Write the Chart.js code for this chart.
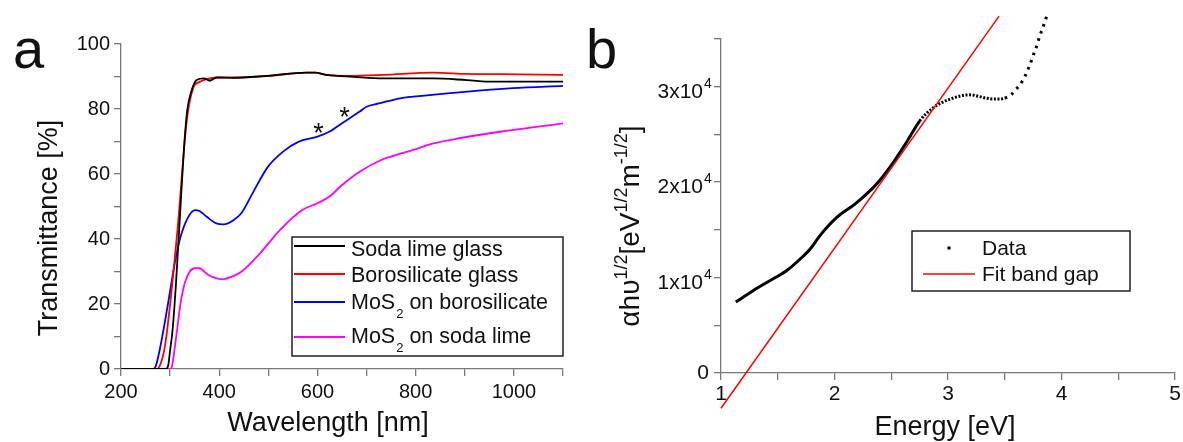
<!DOCTYPE html>
<html>
<head>
<meta charset="utf-8">
<script src="https://cdn.jsdelivr.net/npm/chart.js@4.4.0/dist/chart.umd.min.js"></script>
<style>
html, body { margin: 0; padding: 0; background: #fff; }
#wrap { position: relative; width: 1183px; height: 442px; overflow: hidden; }
#cA { position: absolute; left: 0; top: 0; }
#cB { position: absolute; left: 580px; top: 0; }
</style>
</head>
<body>
<div id="wrap">
<canvas id="cA" width="585" height="442"></canvas>
<canvas id="cB" width="603" height="442"></canvas>
</div>
<script>
// panel a : transmittance spectra (wavelength nm -> T %)
var sodaNm = [200, 291, 296, 300, 305, 312, 320, 328, 335, 343, 354, 369, 381, 395, 429, 497, 578, 595, 619, 673, 734, 836, 904, 958, 1100];
var sodaT = [0, 0, 1, 5.8, 12, 26.4, 46.9, 67.4, 79.7, 85.3, 88.9, 89.4, 88.7, 89.7, 89.6, 90.2, 91.2, 91.2, 90.5, 89.9, 89.4, 89.4, 88.9, 88.4, 88.4];

var boroNm = [200, 272, 279, 288, 294, 315, 334, 347, 361, 374, 395, 429, 497, 578, 595, 619, 666, 734, 836, 904, 972, 1100];
var boroT = [0, 0, 1, 5.8, 12, 42.8, 76.6, 86.4, 88.4, 89.2, 89.7, 89.7, 90.1, 91.2, 91.2, 90.5, 90.2, 90.5, 91.2, 90.8, 90.7, 90.5];

var mosBoroNm = [200, 266, 271, 279, 290, 300, 310, 320, 336, 351, 359, 374, 394, 409, 429, 445, 468, 499, 530, 561, 600, 624, 650, 686, 700, 725, 768, 795, 900, 998, 1100];
var mosBoroT = [0, 0, 1, 6, 15, 24, 33, 40, 46.5, 48.9, 48.7, 46.9, 44.8, 44.5, 45.8, 47.9, 54.1, 62.2, 66.9, 69.9, 71.5, 73, 75.6, 79.2, 80.7, 81.7, 83.3, 83.8, 85.3, 86.4, 87.1];

var mosSodaNm = [200, 300, 304, 309, 315, 321, 330, 340, 350, 359, 378, 406, 429, 445, 483, 524, 569, 600, 624, 650, 686, 730, 795, 836, 889, 972, 1100];
var mosSodaT = [0, 0, 1, 6, 13, 20, 26.5, 30, 31, 31, 28.9, 27.6, 28.6, 29.9, 35.6, 42.8, 48.9, 51, 53, 56.6, 60.7, 64.3, 67.4, 69.4, 71, 73, 75.6];

var namesA = ['Soda lime glass', 'Borosilicate glass', 'MoS_2 on borosilicate', 'MoS_2 on soda lime'];
var colorsA = ['#000000', '#ff0000', '#0000ff', '#ff00ff'];
var starNm = [602, 655];
var starT = [74.4, 79.4];

// panel b : Tauc plot (energy eV -> value in units of 1e4)
var energyEv = [1.13, 1.285, 1.46, 1.58, 1.70, 1.786, 1.872, 2.02, 2.18, 2.33, 2.40, 2.52, 2.636, 2.75, 2.87, 3.02, 3.19, 3.34, 3.43,
  3.50, 3.56, 3.60, 3.635, 3.665, 3.69, 3.715, 3.74, 3.76, 3.785, 3.805, 3.83, 3.85, 3.87];
var tauc = [0.743, 0.865, 0.987, 1.074, 1.197, 1.30, 1.44, 1.63, 1.77, 1.93, 2.02, 2.21, 2.42, 2.64, 2.78, 2.87, 2.915, 2.88, 2.87,
  2.88, 2.92, 2.975, 3.02, 3.08, 3.14, 3.21, 3.29, 3.36, 3.44, 3.52, 3.60, 3.67, 3.74];
var fitEv = [1.0, 3.45];
var fitVal = [-0.37, 3.74];
var namesB = ['Data', 'Fit band gap'];
var yLabelsB = [0, 1, 2, 3];

var FONT = '"Liberation Sans", Arial, sans-serif';
var GREY = '#7a7a7a';
var INK = '#111111';

function pair(xs, ys) {
  return xs.map(function (x, i) { return { x: x, y: ys[i] }; });
}

function lineSet(label, xs, ys, color) {
  return {
    label: label, data: pair(xs, ys), borderColor: color, backgroundColor: color,
    borderWidth: 1.8, pointRadius: 0, cubicInterpolationMode: 'monotone', fill: false
  };
}

function text(ctx, s, x, y, size, align, base) {
  ctx.font = size + 'px ' + FONT;
  ctx.fillStyle = INK;
  ctx.textAlign = align || 'left';
  ctx.textBaseline = base || 'alphabetic';
  ctx.fillText(s, x, y);
}

// draws "MoS_2 ..." style label, _2 = subscript
function subText(ctx, s, x, y, size) {
  var parts = s.split('_');
  text(ctx, parts[0], x, y, size);
  if (parts.length < 2) return;
  ctx.font = size + 'px ' + FONT;
  var w = ctx.measureText(parts[0]).width;
  text(ctx, parts[1].charAt(0), x + w + 1, y + 8.5, 13);
  ctx.font = '13px ' + FONT;
  var w2 = ctx.measureText(parts[1].charAt(0)).width;
  text(ctx, parts[1].substring(1), x + w + w2 + 1, y, size);
}

function axisOpts(min, max, step, size, everyLabel, pad, fit) {
  return {
    type: 'linear', min: min, max: max,
    ticks: {
      stepSize: step, autoSkip: false, maxRotation: 0, padding: pad, color: INK,
      font: { family: FONT, size: size },
      callback: function (v) {
        if (everyLabel === 0) return '';
        return Math.abs(v / everyLabel - Math.round(v / everyLabel)) < 1e-6 ? String(v) : '';
      }
    },
    grid: { drawOnChartArea: false, tickLength: 7, color: GREY, lineWidth: 1.3 },
    border: { color: GREY, width: 1.3 },
    afterFit: fit
  };
}

var panelA = {
  id: 'panelA',
  afterDraw: function (chart) {
    var ctx = chart.ctx;
    var sx = chart.scales.x, sy = chart.scales.y;
    ctx.save();
    text(ctx, 'a', 13, 68, 56);
    text(ctx, 'Wavelength [nm]', 328, 431, 27, 'center');
    ctx.save();
    ctx.translate(57, 228);
    ctx.rotate(-Math.PI / 2);
    text(ctx, 'Transmittance [%]', 0, 0, 27, 'center');
    ctx.restore();

    for (var k = 0; k < starNm.length; k++) {
      text(ctx, '*', sx.getPixelForValue(starNm[k]), sy.getPixelForValue(starT[k]) + 15, 27, 'center');
    }

    // legend box
    ctx.strokeStyle = '#222';
    ctx.lineWidth = 1.5;
    ctx.strokeRect(292, 237, 271, 119);
    var lineY = [246, 274, 302, 337];
    var baseY = [256, 282, 309, 343];
    for (var i = 0; i < namesA.length; i++) {
      ctx.strokeStyle = colorsA[i];
      ctx.lineWidth = 1.8;
      ctx.beginPath();
      ctx.moveTo(294, lineY[i]);
      ctx.lineTo(345, lineY[i]);
      ctx.stroke();
      subText(ctx, namesA[i], 351, baseY[i], 21.5);
    }
    ctx.restore();
  }
};

var panelB = {
  id: 'panelB',
  afterDraw: function (chart) {
    var ctx = chart.ctx;
    var sy = chart.scales.y;
    var left = chart.chartArea.left;
    ctx.save();
    text(ctx, 'b', 6, 68, 56);
    text(ctx, 'Energy [eV]', 365, 435, 27, 'center');

    // y tick labels with powers of ten
    yLabelsB.forEach(function (v) {
      var py = sy.getPixelForValue(v);
      if (v === 0) {
        text(ctx, '0', left - 12, py + 6, 21, 'right');
      } else {
        text(ctx, v + 'x10', left - 18, py + 11, 21, 'right');
        text(ctx, '4', left - 17, py + 1, 14, 'left');
      }
    });

    // rotated y title with superscripts
    var parts = [['\u03b1h\u03c5', 0], ['1/2', 1], ['[eV', 0], ['1/2', 1], ['m', 0], ['-1/2', 1], [']', 0]];
    ctx.save();
    ctx.translate(59, 226);
    ctx.rotate(-Math.PI / 2);
    var total = 0;
    parts.forEach(function (p) {
      ctx.font = (p[1] ? 18 : 28) + 'px ' + FONT;
      total += ctx.measureText(p[0]).width;
    });
    var x = -total / 2;
    parts.forEach(function (p) {
      var size = p[1] ? 18 : 28;
      text(ctx, p[0], x, p[1] ? -12 : 0, size);
      ctx.font = size + 'px ' + FONT;
      x += ctx.measureText(p[0]).width;
    });
    ctx.restore();

    // legend
    ctx.strokeStyle = '#222';
    ctx.lineWidth = 1.5;
    ctx.strokeRect(332, 231, 218, 60);
    ctx.fillStyle = '#000';
    ctx.fillRect(367.5, 246.5, 3, 3);
    ctx.strokeStyle = '#ff0000';
    ctx.lineWidth = 1.5;
    ctx.beginPath();
    ctx.moveTo(343, 274);
    ctx.lineTo(395, 274);
    ctx.stroke();
    text(ctx, namesB[0], 402, 255, 21);
    text(ctx, namesB[1], 402, 281, 21);
    ctx.restore();
  }
};

new Chart(document.getElementById('cA'), {
  type: 'line',
  data: {
    datasets: [
      lineSet(namesA[0], sodaNm, sodaT, colorsA[0]),
      lineSet(namesA[1], boroNm, boroT, colorsA[1]),
      lineSet(namesA[2], mosBoroNm, mosBoroT, colorsA[2]),
      lineSet(namesA[3], mosSodaNm, mosSodaT, colorsA[3])
    ]
  },
  options: {
    responsive: false,
    animation: false,
    layout: { padding: { top: 44, right: 22, left: 0, bottom: 0 } },
    plugins: { legend: { display: false }, tooltip: { enabled: false } },
    scales: {
      x: axisOpts(200, 1100, 100, 20, 200, 4, function (s) { s.height = 73; }),
      y: axisOpts(0, 100, 10, 20, 20, 4, function (s) { s.width = 121; })
    }
  },
  plugins: [panelA]
});

new Chart(document.getElementById('cB'), {
  type: 'line',
  data: {
    datasets: [
      {
        label: namesB[1], data: pair(fitEv, fitVal), borderColor: '#ff0000',
        borderWidth: 1.5, pointRadius: 0, tension: 0, clip: false
      },
      {
        label: namesB[0], data: pair(energyEv, tauc), borderColor: '#000000', backgroundColor: '#000000',
        borderWidth: 3, cubicInterpolationMode: 'monotone', clip: false, pointRadius: 0,
        segment: {
          borderDash: function (c) {
            var e = c.p0.parsed.x;
            if (e >= 3.49) return [2.6, 5];
            return e >= 2.75 ? [2, 1.6] : [];
          }
        }
      }
    ]
  },
  options: {
    responsive: false,
    animation: false,
    layout: { padding: { top: 39, right: 8, left: 0, bottom: 0 } },
    plugins: { legend: { display: false }, tooltip: { enabled: false } },
    scales: {
      x: axisOpts(1, 5, 0.5, 21, 1, 2, function (s) { s.height = 69; }),
      y: axisOpts(0, 3.5, 0.5, 21, 0, 4, function (s) { s.width = 141; })
    }
  },
  plugins: [panelB]
});
</script>
</body>
</html>
